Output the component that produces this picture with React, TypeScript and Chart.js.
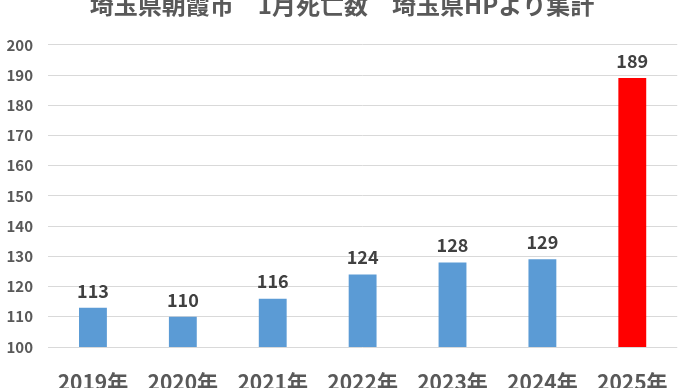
import React, { useEffect, useRef } from "react";
import { Chart, registerables } from "chart.js";

Chart.register(...registerables);

const titleText = "埼玉県朝霞市　1月死亡数　埼玉県HPより集計";
const categories = ["2019年", "2020年", "2021年", "2022年", "2023年", "2024年", "2025年"];
const deaths = [113, 110, 116, 124, 128, 129, 189];
const barColors = ["#5B9BD5", "#5B9BD5", "#5B9BD5", "#5B9BD5", "#5B9BD5", "#5B9BD5", "#FF0000"];
const yMin = 100;
const yMax = 200;
const yStep = 10;

const FONT = "'Noto Sans CJK JP', 'Noto Sans', sans-serif";

const dataLabelPlugin = {
  id: "dataLabels",
  afterDatasetsDraw(chart: any) {
    const ctx = chart.ctx;
    const meta = chart.getDatasetMeta(0);
    ctx.save();
    ctx.font = `bold 18px ${FONT}`;
    ctx.fillStyle = "#404040";
    ctx.textAlign = "center";
    ctx.textBaseline = "middle";
    meta.data.forEach((bar: any, i: number) => {
      ctx.fillText(String(chart.data.datasets[0].data[i]), bar.x, bar.y - 17);
    });
    ctx.restore();
  },
};

export default function App() {
  const ref = useRef<HTMLCanvasElement | null>(null);
  useEffect(() => {
    if (!ref.current) return;
    const chart = new Chart(ref.current, {
      type: "bar",
      data: {
        labels: categories,
        datasets: [
          {
            data: deaths,
            backgroundColor: barColors,
            borderWidth: 0,
            barPercentage: 0.31,
            categoryPercentage: 1,
          },
        ],
      },
      options: {
        animation: false,
        responsive: false,
        maintainAspectRatio: false,
        layout: { padding: { left: 0, right: 6, top: 0, bottom: 0 } },
        plugins: {
          legend: { display: false },
          tooltip: { enabled: false },
          title: {
            display: true,
            text: titleText,
            color: "#595959",
            font: { family: FONT, size: 24, weight: "bold" },
            padding: { top: 20, bottom: 26 },
          },
        },
        scales: {
          x: {
            grid: { display: false, drawTicks: false },
            border: { display: false },
            ticks: {
              color: "#595959",
              font: { family: FONT, size: 21, weight: "bold" },
              padding: 22,
              maxRotation: 0,
              autoSkip: false,
            },
            afterFit(scale: any) {
              scale.height = 73;
            },
          },
          y: {
            min: yMin,
            max: yMax,
            grid: { color: "#D9D9D9", lineWidth: 1, drawTicks: false },
            border: { display: false },
            ticks: {
              stepSize: yStep,
              color: "#595959",
              font: { family: FONT, size: 15, weight: "bold" },
              padding: 15,
            },
            afterFit(scale: any) {
              scale.width = 48;
            },
          },
        },
      },
      plugins: [dataLabelPlugin],
    });
    return () => chart.destroy();
  }, []);
  return (
    <div style={{ position: "fixed", left: 0, top: -30, width: 690, height: 450, background: "#fff" }}>
      <canvas ref={ref} width={690} height={450} style={{ display: "block" }} />
    </div>
  );
}
